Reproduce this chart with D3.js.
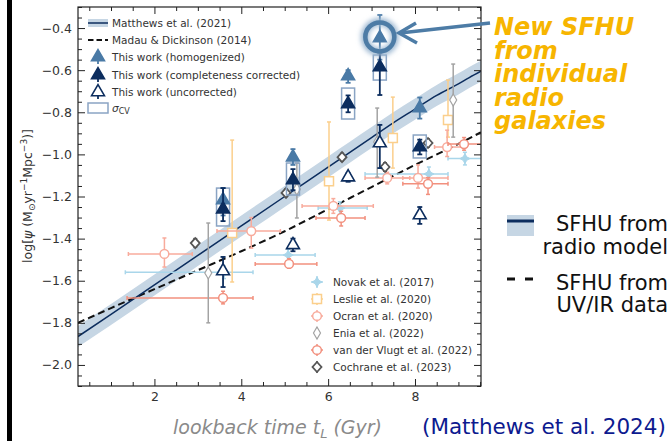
<!DOCTYPE html>
<html>
<head>
<meta charset="utf-8">
<script src="https://cdn.jsdelivr.net/npm/d3@7"></script>
<style>
body { margin: 0; background: #fff; }
svg text { font-family: "DejaVu Sans", sans-serif; }
</style>
</head>
<body>
<div id="chart"></div>
<script>
// ---- data ----
// Matthews et al. (2021) radio model, lookback time (Gyr) vs log SFRD
var matthewsT = [0.24, 1, 2, 3, 4, 5, 6, 6.5, 7, 7.5, 8, 8.5, 9, 9.25, 9.52];
var matthewsY = [-1.865, -1.76, -1.62, -1.48, -1.34, -1.20, -1.06, -0.99, -0.92, -0.85, -0.785, -0.72, -0.665, -0.635, -0.605];
var bandHalf = 0.05;
// Madau & Dickinson (2014)
var madauT = [0.24, 1, 2, 3, 4, 5, 6, 7, 8, 9, 9.52];
var madauY = [-1.80, -1.73, -1.64, -1.55, -1.46, -1.365, -1.26, -1.155, -1.05, -0.95, -0.895];

// this work: [t, value, low, high]
var homogenized = [[3.58, -1.217, -1.29, -1.16], [5.19, -1.013, -1.05, -0.975], [6.46, -0.628, -0.66, -0.60], [7.19, -0.447, -0.55, -0.338], [8.11, -0.78, -0.83, -0.73]];
var completeness = [[3.58, -1.26, -1.317, -1.16], [5.19, -1.122, -1.17, -1.07], [6.46, -0.76, -0.80, -0.72], [7.19, -0.585, -0.718, -0.52], [8.11, -0.965, -1.0, -0.93]];
var uncorrected = [[3.58, -1.554, -1.63, -1.487], [5.19, -1.43, -1.46, -1.40], [6.46, -1.108, -1.13, -1.09], [7.19, -0.946, -1.065, -0.86], [8.11, -1.288, -1.33, -1.25]];
// sigma_CV boxes: [t, low, high]
var cvBoxes = [[3.58, -1.34, -1.16], [5.19, -1.193, -1.041], [6.46, -0.832, -0.685], [7.19, -0.647, -0.528], [8.11, -1.017, -0.908]];

// literature: [t, value, tLow, tHigh, low, high]
var novak = [[3.60, -1.56, 1.33, 4.27, -1.59, -1.53], [5.08, -1.478, 4.32, 5.70, -1.51, -1.45], [6.27, -1.255, 5.77, 6.90, -1.285, -1.225], [8.32, -1.093, 6.85, 8.76, -1.125, -1.06], [9.15, -1.02, 8.76, 9.6, -1.05, -0.99]];
var leslie = [[3.79, -1.373, 3.79, 3.79, -1.606, -0.932], [6.02, -1.127, 6.02, 6.02, -1.312, -0.846], [7.49, -0.922, 7.49, 7.49, -1.065, -0.728], [8.76, -0.837, 8.76, 8.76, -0.918, -0.647]];
var ocran = [[2.23, -1.473, 1.40, 2.87, -1.535, -1.397], [4.23, -1.364, 3.44, 4.90, -1.445, -1.30], [6.12, -1.245, 5.40, 7.04, -1.28, -1.21], [7.36, -1.112, 6.85, 7.88, -1.14, -1.085], [8.07, -1.112, 7.72, 8.76, -1.16, -1.05], [8.74, -0.965, 8.45, 9.10, -1.01, -0.885]];
var enia = [[3.24, -1.563, 3.24, 3.24, -1.80, -1.326], [5.28, -1.165, 5.28, 5.28, -1.302, -1.041], [7.13, -0.941, 7.13, 7.13, -1.108, -0.78], [8.88, -0.742, 8.88, 8.88, -0.918, -0.571]];
var vlugt = [[3.58, -1.682, 1.37, 4.27, -1.71, -1.65], [5.10, -1.52, 4.32, 5.74, -1.54, -1.495], [6.30, -1.302, 5.72, 6.85, -1.34, -1.27], [8.30, -1.14, 7.72, 8.76, -1.19, -1.11], [9.13, -0.951, 8.76, 9.6, -0.98, -0.92]];
var cochrane = [[2.94, -1.421, 2.94, 2.94, -1.44, -1.40], [5.03, -1.183, 5.03, 5.03, -1.20, -1.165], [6.32, -1.013, 6.32, 6.32, -1.03, -0.995], [7.31, -1.06, 7.31, 7.31, -1.08, -1.04], [8.30, -0.946, 8.30, 8.30, -0.965, -0.927]];

var xTicks = [2, 4, 6, 8];
var yTicks = [-2.0, -1.8, -1.6, -1.4, -1.2, -1.0, -0.8, -0.6, -0.4];

//colors
var cHomog = "#4a7aa6", cNavy = "#0c2d5e", cBox = "#8aa4c4", cBand = "#c6d6e4";
var cNovak = "#a9d6ea", cLeslie = "#fbcf8c", cOcran = "#f8ab9c", cEnia = "#a3a3a3", cVlugt = "#f2907e", cCoch = "#555555";

var svgWidth = 671, svgHeight = 441;
var svg = d3.select("#chart").append("svg").attr("width", svgWidth).attr("height", svgHeight);

var x = d3.scaleLinear().domain([0.24, 9.52]).range([78, 481]);
var y = d3.scaleLinear().domain([-2.1, -0.3]).range([386, 7]);

// black bar down the left edge
svg.append("rect").attr("x", 7).attr("y", 0).attr("width", 5).attr("height", svgHeight).attr("fill", "#000");

svg.append("clipPath").attr("id", "clip").append("rect")
    .attr("x", 78).attr("y", 7).attr("width", 403).attr("height", 379);
var plot = svg.append("g").attr("clip-path", "url(#clip)");

// model band + lines
var band = d3.area().x(function(d, i){ return x(matthewsT[i]); })
    .y0(function(d){ return y(d - bandHalf); }).y1(function(d){ return y(d + bandHalf); })
    .curve(d3.curveMonotoneX);
plot.append("path").datum(matthewsY).attr("d", band).attr("fill", cBand);

var line = function(ts){ return d3.line().x(function(d, i){ return x(ts[i]); }).y(function(d){ return y(d); }).curve(d3.curveMonotoneX); };
plot.append("path").datum(madauY).attr("d", line(madauT)).attr("fill", "none")
    .attr("stroke", "#111").attr("stroke-width", 2).attr("stroke-dasharray", "7,4");
plot.append("path").datum(matthewsY).attr("d", line(matthewsT)).attr("fill", "none")
    .attr("stroke", cNavy).attr("stroke-width", 1.5);

// marker shapes
function diamond(w, h){ return "M0," + (-h/2) + "L" + (w/2) + ",0L0," + (h/2) + "L" + (-w/2) + ",0Z"; }
function star4(r){ var s = r*0.35; return "M0," + (-r) + "L" + s + "," + (-s) + "L" + r + ",0L" + s + "," + s + "L0," + r + "L" + (-s) + "," + s + "L" + (-r) + ",0L" + (-s) + "," + (-s) + "Z"; }
var tri = d3.symbol().type(d3.symbolTriangle).size(72)();
var square = "M-4.5,-4.5H4.5V4.5H-4.5Z";

// errorbar series
function series(data, color, shape, fill, sw, ewidth, cap){
    var g = plot.append("g");
    data.forEach(function(d){
        var px = x(d[0]), py = y(d[1]);
        if (d[2] !== d[3]) {
            g.append("line").attr("x1", x(d[2])).attr("x2", x(d[3])).attr("y1", py).attr("y2", py)
                .attr("stroke", color).attr("stroke-width", ewidth);
            [d[2], d[3]].forEach(function(e){
                g.append("line").attr("x1", x(e)).attr("x2", x(e)).attr("y1", py - cap).attr("y2", py + cap)
                    .attr("stroke", color).attr("stroke-width", ewidth);
            });
        }
        g.append("line").attr("x1", px).attr("x2", px).attr("y1", y(d[4])).attr("y2", y(d[5]))
            .attr("stroke", color).attr("stroke-width", ewidth);
        [d[4], d[5]].forEach(function(e){
            g.append("line").attr("x1", px - cap).attr("x2", px + cap).attr("y1", y(e)).attr("y2", y(e))
                .attr("stroke", color).attr("stroke-width", ewidth);
        });
        g.append("path").attr("d", shape).attr("transform", "translate(" + px + "," + py + ")")
            .attr("fill", fill).attr("stroke", color).attr("stroke-width", sw);
    });
}

series(novak, cNovak, star4(5), cNovak, 1, 1.5, 2);
series(leslie, cLeslie, square, "#fff", 1.5, 1.5, 2);
series(ocran, cOcran, d3.symbol().type(d3.symbolCircle).size(60)(), "#fff", 1.5, 1.5, 2);
series(vlugt, cVlugt, d3.symbol().type(d3.symbolCircle).size(60)(), "#fff", 1.5, 1.5, 2);
series(enia, cEnia, diamond(7, 12), "#fff", 1.2, 1.5, 2);
series(cochrane, cCoch, diamond(9, 10), "#fff", 1.8, 1.5, 2);

// this work
var tw = plot.append("g");
cvBoxes.forEach(function(d){
    tw.append("rect").attr("x", x(d[0]) - 6.5).attr("width", 13)
        .attr("y", y(d[2])).attr("height", y(d[1]) - y(d[2]))
        .attr("fill", "none").attr("stroke", cBox).attr("stroke-width", 1.5);
});
function twSeries(data, color, fill){
    data.forEach(function(d){
        var px = x(d[0]);
        tw.append("line").attr("x1", px).attr("x2", px).attr("y1", y(d[2])).attr("y2", y(d[3]))
            .attr("stroke", color).attr("stroke-width", 1.8);
        [d[2], d[3]].forEach(function(e){
            tw.append("line").attr("x1", px - 2.5).attr("x2", px + 2.5).attr("y1", y(e)).attr("y2", y(e))
                .attr("stroke", color).attr("stroke-width", 1.8);
        });
        tw.append("path").attr("d", tri).attr("transform", "translate(" + px + "," + y(d[1]) + ")")
            .attr("fill", fill).attr("stroke", color).attr("stroke-width", 1.6);
    });
}
twSeries(uncorrected, cNavy, "#fff");
twSeries(homogenized, cHomog, cHomog);
twSeries(completeness, cNavy, cNavy);

// axes, ticks pointing in
var minorX = d3.range(0.5, 9.51, 0.5).filter(function(v){ return v % 2 !== 0; });
var minorY = d3.range(-2.1, -0.29, 0.05).map(function(v){ return Math.round(v*100)/100; })
    .filter(function(v){ return yTicks.indexOf(v) < 0; });
var fmtY = function(v){ return d3.format(".1f")(v).replace("-", "\u2212"); };

function ax(gen, tr, vals, size, fmt){
    var g = svg.append("g").attr("transform", tr)
        .call(gen.tickValues(vals).tickSize(size).tickPadding(6).tickFormat(fmt));
    g.select(".domain").remove();
    g.selectAll("text").attr("font-size", 12.5).attr("fill", "#333").attr("font-family", "DejaVu Sans");
    g.selectAll("line").attr("stroke", "#222");
    return g;
}
ax(d3.axisBottom(x), "translate(0,386)", xTicks, -7, d3.format("d"));
ax(d3.axisBottom(x), "translate(0,386)", minorX, -4, "");
ax(d3.axisTop(x), "translate(0,7)", xTicks, -7, "");
ax(d3.axisTop(x), "translate(0,7)", minorX, -4, "");
ax(d3.axisLeft(y), "translate(78,0)", yTicks, -7, fmtY);
ax(d3.axisLeft(y), "translate(78,0)", minorY, -4, "");
ax(d3.axisRight(y), "translate(481,0)", yTicks, -7, "");
ax(d3.axisRight(y), "translate(481,0)", minorY, -4, "");
svg.append("rect").attr("x", 78).attr("y", 7).attr("width", 403).attr("height", 379)
    .attr("fill", "none").attr("stroke", "#222").attr("stroke-width", 1.2);

// y label
var yl = svg.append("text").attr("transform", "translate(32,196) rotate(-90)")
    .attr("text-anchor", "middle").attr("font-size", 12.5).attr("fill", "#333");
yl.append("tspan").text("log[");
yl.append("tspan").attr("font-style", "italic").text("\u03c8");
yl.append("tspan").text(" (M");
yl.append("tspan").attr("font-size", 9).attr("dy", 3).text("\u2299");
yl.append("tspan").attr("dy", -3).text("yr");
yl.append("tspan").attr("font-size", 9).attr("dy", -5).text("\u22121");
yl.append("tspan").attr("dy", 5).text("Mpc");
yl.append("tspan").attr("font-size", 9).attr("dy", -5).text("\u22123");
yl.append("tspan").attr("dy", 5).text(")]");

// legend, top left
var lg = svg.append("g").attr("font-size", 10.5).attr("fill", "#333");
var legRows = [23, 40, 57, 75, 92, 108];
var legText = ["Matthews et al. (2021)", "Madau & Dickinson (2014)", "This work (homogenized)", "This work (completeness corrected)", "This work (uncorrected)"];
legText.forEach(function(t, i){
    lg.append("text").attr("x", 112).attr("y", legRows[i] + 4).text(t);
});
lg.append("text").attr("x", 112).attr("y", legRows[5] + 4).attr("font-style", "italic").text("\u03c3")
    .append("tspan").attr("font-style", "normal").attr("font-size", 8).attr("dy", 2).text("CV");
lg.append("rect").attr("x", 88).attr("y", legRows[0] - 4).attr("width", 20).attr("height", 8).attr("fill", cBand);
lg.append("line").attr("x1", 88).attr("x2", 108).attr("y1", legRows[0]).attr("y2", legRows[0]).attr("stroke", cNavy).attr("stroke-width", 1.5);
lg.append("line").attr("x1", 88).attr("x2", 108).attr("y1", legRows[1]).attr("y2", legRows[1]).attr("stroke", "#111").attr("stroke-width", 2).attr("stroke-dasharray", "5.5,3");
[[cHomog, cHomog], [cNavy, cNavy], [cNavy, "#fff"]].forEach(function(c, i){
    var yy = legRows[i + 2];
    lg.append("line").attr("x1", 98).attr("x2", 98).attr("y1", yy - 7).attr("y2", yy + 7).attr("stroke", c[0]).attr("stroke-width", 1.8);
    lg.append("path").attr("d", tri).attr("transform", "translate(98," + yy + ")").attr("fill", c[1]).attr("stroke", c[0]).attr("stroke-width", 1.6);
});
lg.append("rect").attr("x", 88).attr("y", legRows[5] - 5).attr("width", 20).attr("height", 10).attr("fill", "none").attr("stroke", cBox).attr("stroke-width", 1.5);

// legend, bottom right
var lit = [["Novak et al. (2017)", cNovak, star4(5), cNovak, 1], ["Leslie et al. (2020)", cLeslie, square, "#fff", 1.5],
    ["Ocran et al. (2020)", cOcran, d3.symbol().type(d3.symbolCircle).size(60)(), "#fff", 1.5], ["Enia et al. (2022)", cEnia, diamond(7, 12), "#fff", 1.2],
    ["van der Vlugt et al. (2022)", cVlugt, d3.symbol().type(d3.symbolCircle).size(60)(), "#fff", 1.5], ["Cochrane et al. (2023)", cCoch, diamond(9, 10), "#fff", 1.8]];
var litRows = [282, 299, 316, 333, 350, 367];
lit.forEach(function(l, i){
    var yy = litRows[i];
    if (i !== 3 && i !== 5) {
        lg.append("line").attr("x1", 311).attr("x2", 323).attr("y1", yy).attr("y2", yy).attr("stroke", l[1]).attr("stroke-width", 1.5);
    }
    lg.append("line").attr("x1", 317).attr("x2", 317).attr("y1", yy - 6).attr("y2", yy + 6).attr("stroke", l[1]).attr("stroke-width", 1.5);
    lg.append("path").attr("d", l[2]).attr("transform", "translate(317," + yy + ")").attr("fill", l[3]).attr("stroke", l[1]).attr("stroke-width", l[4]);
    lg.append("text").attr("x", 333).attr("y", yy + 4).text(l[0]);
});

// highlight circle and arrow
var defs = svg.append("defs");
var glow = defs.append("filter").attr("id", "glow").attr("x", "-50%").attr("y", "-50%").attr("width", "200%").attr("height", "200%");
glow.append("feGaussianBlur").attr("stdDeviation", 2.5);
var hx = x(homogenized[3][0]), hy = y(homogenized[3][1]) - 1;
svg.append("circle").attr("cx", hx).attr("cy", hy).attr("r", 15).attr("fill", "none")
    .attr("stroke", "#9cb8d2").attr("stroke-width", 8).attr("filter", "url(#glow)");
svg.append("circle").attr("cx", hx).attr("cy", hy).attr("r", 14.5).attr("fill", "none")
    .attr("stroke", "#4d7ca6").attr("stroke-width", 4.5);
svg.append("line").attr("x1", 490).attr("y1", 23).attr("x2", 400).attr("y2", 33)
    .attr("stroke", "#4d7ca6").attr("stroke-width", 3.5);
svg.append("path").attr("d", "M416,23 L399,33 L417,43").attr("fill", "none")
    .attr("stroke", "#4d7ca6").attr("stroke-width", 3.5).attr("stroke-linejoin", "miter");

// annotation text
var note = svg.append("text").attr("font-family", "Open Sans").attr("font-weight", "bold")
    .attr("font-style", "italic").attr("font-size", 24).attr("fill", "#f7b500");
["New SFHU", "from", "individual", "radio", "galaxies"].forEach(function(t, i){
    note.append("tspan").attr("x", 494).attr("y", 35 + i*23.5).text(t);
});

// right hand key
svg.append("rect").attr("x", 507).attr("y", 215).attr("width", 27).attr("height", 21).attr("fill", cBand);
svg.append("line").attr("x1", 507).attr("x2", 534).attr("y1", 221).attr("y2", 221).attr("stroke", cNavy).attr("stroke-width", 3);
svg.append("line").attr("x1", 507).attr("x2", 533).attr("y1", 279).attr("y2", 279).attr("stroke", "#111")
    .attr("stroke-width", 3).attr("stroke-dasharray", "8,10");
var key = svg.append("g").attr("font-family", "Open Sans").attr("font-size", 21).attr("fill", "#111").attr("text-anchor", "end");
[["SFHU from", 231], ["radio model", 254], ["SFHU from", 290], ["UV/IR data", 312]].forEach(function(k){
    key.append("text").attr("x", 668).attr("y", k[1]).text(k[0]);
});

// bottom captions
var xl = svg.append("text").attr("x", 173).attr("y", 434).attr("font-family", "Open Sans").attr("font-style", "italic")
    .attr("font-size", 19).attr("fill", "#8a8a8a");
xl.append("tspan").text("lookback time t");
xl.append("tspan").attr("font-size", 13).attr("dy", 4).text("L");
xl.append("tspan").attr("dy", -4).text(" (Gyr)");
svg.append("text").attr("x", 422).attr("y", 434).attr("font-family", "Open Sans").attr("font-size", 21.5)
    .attr("fill", "#0d1a8f").text("(Matthews et al. 2024)");
</script>
</body>
</html>
